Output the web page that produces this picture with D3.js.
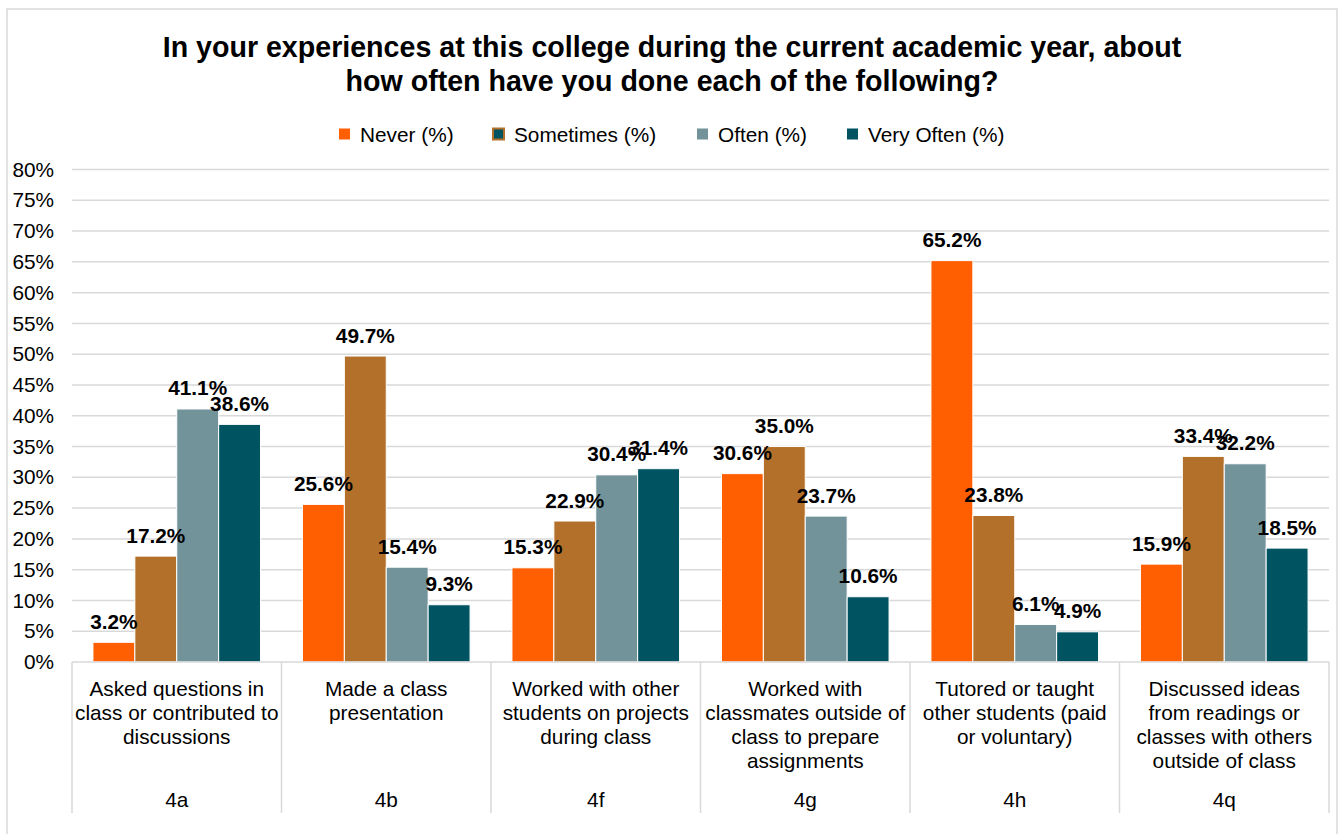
<!DOCTYPE html>
<html>
<head>
<meta charset="utf-8">
<script src="https://cdn.jsdelivr.net/npm/d3@7"></script>
<style>
html,body{margin:0;padding:0;background:#fff;}
svg{display:block;font-family:"Liberation Sans",Arial,sans-serif;}
</style>
</head>
<body>
<svg id="chart" width="1343" height="834"></svg>
<script>
const titleLines = ["In your experiences at this college during the current academic year, about","how often have you done each of the following?"];
const categories = ["4a","4b","4f","4g","4h","4q"];
const categoryText = [
  ["Asked questions in","class or contributed to","discussions"],
  ["Made a class","presentation"],
  ["Worked with other","students on projects","during class"],
  ["Worked with","classmates outside of","class to prepare","assignments"],
  ["Tutored or taught","other students (paid","or voluntary)"],
  ["Discussed ideas","from readings or","classes with others","outside of class"]
];
const seriesNames = ["Never (%)","Sometimes (%)","Often (%)","Very Often (%)"];
const never     = [3.2, 25.6, 15.3, 30.6, 65.2, 15.9];
const sometimes = [17.2, 49.7, 22.9, 35.0, 23.8, 33.4];
const often     = [41.1, 15.4, 30.4, 23.7, 6.1, 32.2];
const veryOften = [38.6, 9.3, 31.4, 10.6, 4.9, 18.5];
const yTicks = [0,5,10,15,20,25,30,35,40,45,50,55,60,65,70,75,80];
const colors = ["#FF5F00","#B3702A","#72939A","#005462"];

const seriesValues = [never, sometimes, often, veryOften];
const svg = d3.select("#chart");
const FS = 20.8;

// chart border
svg.append("rect").attr("x",7).attr("y",9).attr("width",1330).attr("height",840)
  .attr("fill","none").attr("stroke","#d9d9d9").attr("stroke-width",1.5);

// title
svg.append("text").attr("text-anchor","middle").attr("font-weight","bold").attr("font-size",28.6).attr("fill","#000")
  .selectAll("tspan").data(titleLines).join("tspan")
  .attr("x",672).attr("y",(d,i)=>57+i*34).text(d=>d);

const x0 = d3.scaleBand().domain(categories).range([72,1329]).paddingInner(0).paddingOuter(0);
const x1 = d3.scaleBand().domain(seriesNames).range([0,x0.bandwidth()]).paddingInner(0).paddingOuter(0.5);
const y = d3.scaleLinear().domain([0,80]).range([662,169.5]);

// gridlines
svg.append("g").selectAll("line").data(yTicks.filter(t=>t>0)).join("line")
  .attr("x1",72).attr("x2",1329).attr("y1",d=>y(d)).attr("y2",d=>y(d))
  .attr("stroke","#d9d9d9").attr("stroke-width",1.5);

// y axis
const yAxis = d3.axisLeft(y).tickValues(yTicks).tickFormat(d=>d+"%").tickSize(0).tickPadding(0);
const yg = svg.append("g").attr("transform","translate(54,0)").call(yAxis);
yg.select(".domain").remove();
yg.selectAll("text").attr("font-size",FS).attr("fill","#000").attr("font-family","Liberation Sans, Arial, sans-serif");

// bars
const groups = svg.append("g").selectAll("g").data(categories).join("g")
  .attr("transform",d=>`translate(${x0(d)},0)`);
groups.selectAll("rect").data((d,i)=>seriesNames.map((s,j)=>({s,j,v:seriesValues[j][i]}))).join("rect")
  .attr("x",d=>x1(d.s)).attr("width",x1.bandwidth())
  .attr("y",d=>y(d.v)).attr("height",d=>y(0)-y(d.v))
  .attr("fill",d=>colors[d.j]).attr("stroke","#fff").attr("stroke-width",1);

// labels
groups.selectAll("text").data((d,i)=>seriesNames.map((s,j)=>({s,j,v:seriesValues[j][i]}))).join("text")
  .attr("x",d=>x1(d.s)+x1.bandwidth()/2).attr("y",d=>y(d.v)-13.5)
  .attr("text-anchor","middle").attr("font-weight","bold").attr("font-size",FS).attr("fill","#000")
  .text(d=>d.v.toFixed(1)+"%");

// x axis
const xg = svg.append("g");
xg.append("line").attr("x1",72).attr("x2",1329).attr("y1",y(0)).attr("y2",y(0)).attr("stroke","#d9d9d9").attr("stroke-width",1.5);
const bounds = categories.map(c=>x0(c)).concat([x0(categories[categories.length-1])+x0.bandwidth()]);
xg.selectAll("line.sep").data(bounds).join("line").attr("class","sep")
  .attr("x1",d=>d).attr("x2",d=>d).attr("y1",y(0)).attr("y2",813)
  .attr("stroke","#d9d9d9").attr("stroke-width",1.5);
categories.forEach((c,i)=>{
  const cx = x0(c)+x0.bandwidth()/2;
  xg.append("text").attr("text-anchor","middle").attr("font-size",FS).attr("fill","#000")
    .selectAll("tspan").data(categoryText[i]).join("tspan")
    .attr("x",cx).attr("y",(d,k)=>695.5+k*24.3).text(d=>d);
  xg.append("text").attr("x",cx).attr("y",807).attr("text-anchor","middle").attr("font-size",FS).attr("fill","#000").text(c);
});

// legend
const legX = [339,493,697,847];
const leg = svg.append("g").selectAll("g").data(seriesNames).join("g")
  .attr("transform",(d,i)=>`translate(${legX[i]},128.5)`);
leg.append("rect").attr("width",11).attr("height",11)
  .attr("fill",(d,i)=>i===1?colors[3]:colors[i])
  .attr("stroke",(d,i)=>i===1?colors[1]:"none").attr("stroke-width",2);
leg.append("text").attr("x",21).attr("y",13).attr("font-size",FS).attr("fill","#000").text(d=>d);
</script>
</body>
</html>
